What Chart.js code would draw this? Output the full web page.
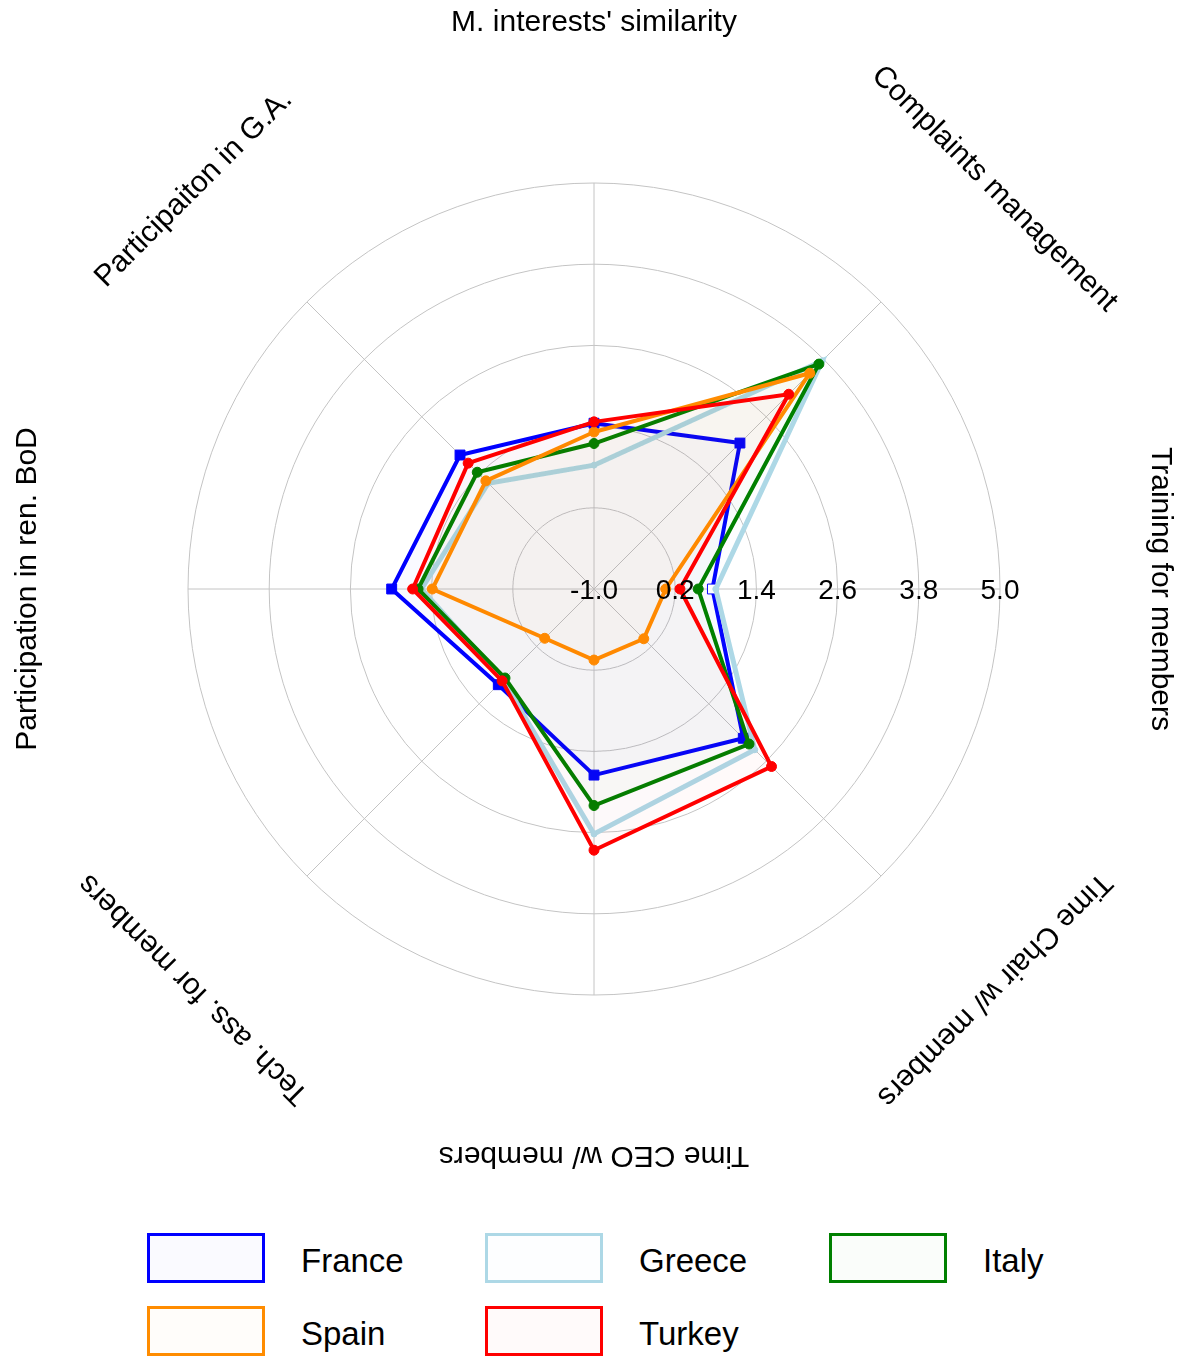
<!DOCTYPE html>
<html>
<head>
<meta charset="utf-8">
<title>Governance radar</title>
<script src="https://cdn.jsdelivr.net/npm/chart.js@4.4.1/dist/chart.umd.min.js"></script>
<style>
  body { margin: 0; background: #ffffff; font-family: 'Liberation Sans', Arial, sans-serif; }
  #wrap { position: relative; width: 1192px; height: 1357px; overflow: hidden; }
  #chart { position: absolute; left: 0; top: 0; }
  #legend {
    position: absolute; left: 147px; top: 1233px;
    display: grid; grid-template-columns: 338px 344px 300px; row-gap: 23px;
  }
  .item { display: flex; align-items: center; height: 50px; }
  .box { width: 112px; height: 44px; border: 3px solid; margin-right: 36px; }
  .label { font-size: 33px; color: #000000; padding-top: 5px; }
</style>
</head>
<body>
<div id="wrap">
  <canvas id="chart" width="1192" height="1210"></canvas>
  <div id="legend"></div>
</div>
<script>
// Chart data
const axisLabels = [
  "M. interests' similarity",
  'Complaints management',
  'Training for members',
  'Time Chair w/ members',
  'Time CEO w/ members',
  'Tech. ass. for members',
  'Participation in ren. BoD',
  'Participaiton in G.A.',
];
const tickValues = [-1.0, 0.2, 1.4, 2.6, 3.8, 5.0];
const countries = ['France', 'Greece', 'Italy', 'Spain', 'Turkey'];

const franceValues = [1.45, 2.05, 0.75, 2.12, 1.75, 1.00, 1.99, 1.80];
const greeceValues = [0.83, 3.77, 0.80, 2.36, 2.62, 0.90, 1.55, 1.21];
const italyValues  = [1.15, 3.70, 0.54, 2.24, 2.20, 0.86, 1.60, 1.44];
const spainValues  = [1.32, 3.51, 0.06, 0.04, 0.05, 0.03, 1.39, 1.26];
const turkeyValues = [1.47, 3.07, 0.27, 2.71, 2.86, 0.92, 1.68, 1.63];

const seriesValues = [franceValues, greeceValues, italyValues, spainValues, turkeyValues];

// Styles (one per country, same order as above)
const seriesStyles = [
  { line: '#0000ff', fill: 'rgba(0, 0, 255, 0.02)',     point: 'rect',   radius: 7, width: 4 },
  { line: '#add8e6', fill: 'rgba(173, 216, 230, 0.02)', point: 'circle', radius: 3, width: 5 },
  { line: '#008000', fill: 'rgba(0, 128, 0, 0.02)',     point: 'circle', radius: 5, width: 4 },
  { line: '#ff8c00', fill: 'rgba(255, 140, 0, 0.02)',   point: 'circle', radius: 5, width: 4 },
  { line: '#ff0000', fill: 'rgba(255, 0, 0, 0.02)',     point: 'circle', radius: 5, width: 4 },
];

const fontFamily = '"Liberation Sans", Arial, sans-serif';

// Draws tick values along the right spoke and the rotated category labels
const axisTextPlugin = {
  id: 'axisText',
  afterDraw(chart) {
    const scale = chart.scales.r;
    const ctx = chart.ctx;

    ctx.save();
    ctx.fillStyle = '#000000';
    ctx.textAlign = 'center';
    ctx.textBaseline = 'middle';

    ctx.font = '28px ' + fontFamily;
    tickValues.forEach((value) => {
      const pos = scale.getPointPositionForValue(2, value);   // "Training for members" spoke
      ctx.fillText(value.toFixed(1), pos.x, pos.y + 2);
    });

    ctx.font = '30px ' + fontFamily;
    axisLabels.forEach((label, i) => {
      const pos = scale.getPointPosition(i, scale.drawingArea + 160);
      ctx.save();
      ctx.translate(pos.x, pos.y);
      ctx.rotate(scale.getIndexAngle(i));                     // text follows the circle
      ctx.fillText(label, 0, 0);
      ctx.restore();
    });

    ctx.restore();
  },
};

const datasets = countries.map((name, i) => {
  const style = seriesStyles[i];
  return {
    label: name,
    data: seriesValues[i],
    borderColor: style.line,
    backgroundColor: style.fill,
    borderWidth: style.width,
    fill: 'start',                                            // fill down to the centre
    pointStyle: style.point,
    pointRadius: style.radius,
    pointBorderWidth: 1,
    pointBorderColor: style.line,
    // France's "Training" marker is drawn hollow in the original
    pointBackgroundColor: (c) => (i === 0 && c.dataIndex === 2 ? '#ffffff' : style.line),
    order: countries.length - 1 - i,                          // last country on top
  };
});

const chart = new Chart(document.getElementById('chart'), {
  type: 'radar',
  data: { labels: axisLabels, datasets: datasets },
  options: {
    responsive: false,
    animation: false,
    layout: { padding: { left: 188, right: 192, top: 183, bottom: 215 } },
    elements: { line: { tension: 0 } },
    plugins: {
      legend: { display: false },
      tooltip: { enabled: false },
    },
    scales: {
      r: {
        min: -1,
        max: 5,
        afterBuildTicks: (scale) => { scale.ticks = tickValues.map((v) => ({ value: v })); },
        ticks: { display: false },
        pointLabels: { display: false },
        grid: { circular: true, color: '#c4c4c4', lineWidth: 1 },
        angleLines: { color: '#c4c4c4', lineWidth: 1 },
      },
    },
  },
  plugins: [axisTextPlugin],
});

// HTML legend built from the chart's datasets
const legend = document.getElementById('legend');
chart.data.datasets.forEach((ds) => {
  const item = document.createElement('div');
  item.className = 'item';
  const box = document.createElement('div');
  box.className = 'box';
  box.style.borderColor = ds.borderColor;
  box.style.background = ds.backgroundColor;
  const label = document.createElement('span');
  label.className = 'label';
  label.textContent = ds.label;
  item.appendChild(box);
  item.appendChild(label);
  legend.appendChild(item);
});
</script>
</body>
</html>
